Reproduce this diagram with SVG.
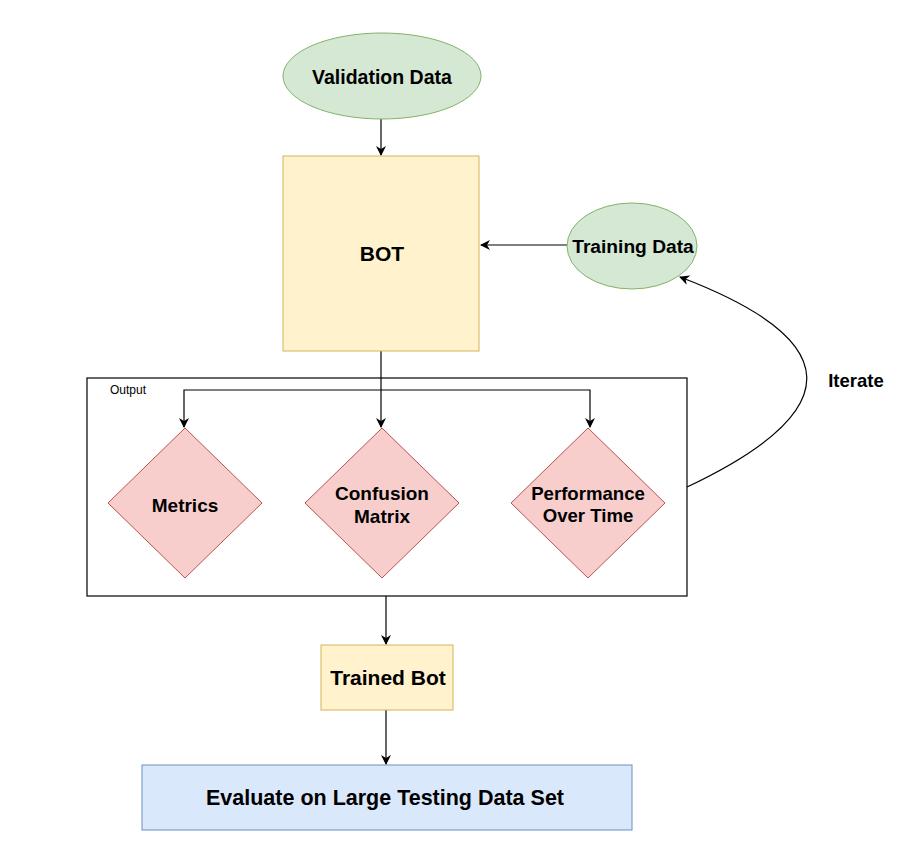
<svg xmlns="http://www.w3.org/2000/svg" width="900" height="852" viewBox="0 0 900 852">
<defs>
<style>
.green{fill:#d5e8d4;stroke:#82b366;stroke-width:1}
.yellow{fill:#fff2cc;stroke:#d6b656;stroke-width:1}
.red{fill:#f8cecc;stroke:#b85450;stroke-width:1}
.blue{fill:#dae8fc;stroke:#6c8ebf;stroke-width:1}
.t{font-family:"Liberation Sans",Arial,sans-serif;font-weight:bold;fill:#000;text-anchor:middle;dominant-baseline:central}
.edge{fill:none;stroke:#000;stroke-width:1.2}
</style>
<marker id="arr" viewBox="0 0 10 10" refX="9" refY="5" markerWidth="10" markerHeight="10" markerUnits="userSpaceOnUse" orient="auto">
<path d="M0,0 L10,5 L0,10 L3,5 z" fill="#000"/>
</marker>
</defs>
<rect width="900" height="852" fill="#fff"/>
<g id="output-container">
<rect x="87" y="378" width="600" height="218" fill="none" stroke="#000" stroke-width="1.2"/>
<text x="110" y="390" font-family="'Liberation Sans',Arial,sans-serif" font-size="12" fill="#000" dominant-baseline="central">Output</text>
</g>
<g id="connectors">
<line class="edge" x1="381" y1="119" x2="381" y2="155" marker-end="url(#arr)"/>
<line class="edge" x1="567" y1="245" x2="481" y2="245" marker-end="url(#arr)"/>
<line class="edge" x1="381" y1="351" x2="381" y2="427" marker-end="url(#arr)"/>
<polyline class="edge" points="381,390 184,390 184,427" marker-end="url(#arr)"/>
<polyline class="edge" points="381,390 590,390 590,427" marker-end="url(#arr)"/>
<line class="edge" x1="386" y1="596" x2="386" y2="644" marker-end="url(#arr)"/>
<line class="edge" x1="386" y1="710" x2="386" y2="764" marker-end="url(#arr)"/>
<path class="edge" d="M687,487 Q930,372 680,277" marker-end="url(#arr)"/>
<text class="t" x="856" y="380" font-size="18.5">Iterate</text>
</g>
<g id="validation-data">
<ellipse class="green" cx="382" cy="76" rx="99" ry="43"/>
<text class="t" x="382" y="77" font-size="19.5">Validation Data</text>
</g>
<g id="bot">
<rect class="yellow" x="283" y="156" width="196" height="195"/>
<text class="t" x="382" y="253" font-size="21">BOT</text>
</g>
<g id="training-data">
<ellipse class="green" cx="632" cy="246" rx="65" ry="43"/>
<text class="t" x="633" y="246" font-size="19.2">Training Data</text>
</g>
<g id="metrics">
<polygon class="red" points="185,428 262,503 185,578 108,503"/>
<text class="t" x="185" y="505" font-size="19">Metrics</text>
</g>
<g id="confusion-matrix">
<polygon class="red" points="382,428 459,503 382,578 305,503"/>
<text class="t" x="382" y="493" font-size="19">Confusion</text>
<text class="t" x="382" y="516" font-size="19">Matrix</text>
</g>
<g id="performance">
<polygon class="red" points="588,428 665,503 588,578 511,503"/>
<text class="t" x="588" y="493" font-size="18.6">Performance</text>
<text class="t" x="588" y="515" font-size="18.6">Over Time</text>
</g>
<g id="trained-bot">
<rect class="yellow" x="321" y="645" width="132" height="65"/>
<text class="t" x="388" y="677" font-size="21">Trained Bot</text>
</g>
<g id="evaluate">
<rect class="blue" x="142" y="765" width="490" height="65"/>
<text class="t" x="385" y="798" font-size="21.5">Evaluate on Large Testing Data Set</text>
</g>
</svg>
